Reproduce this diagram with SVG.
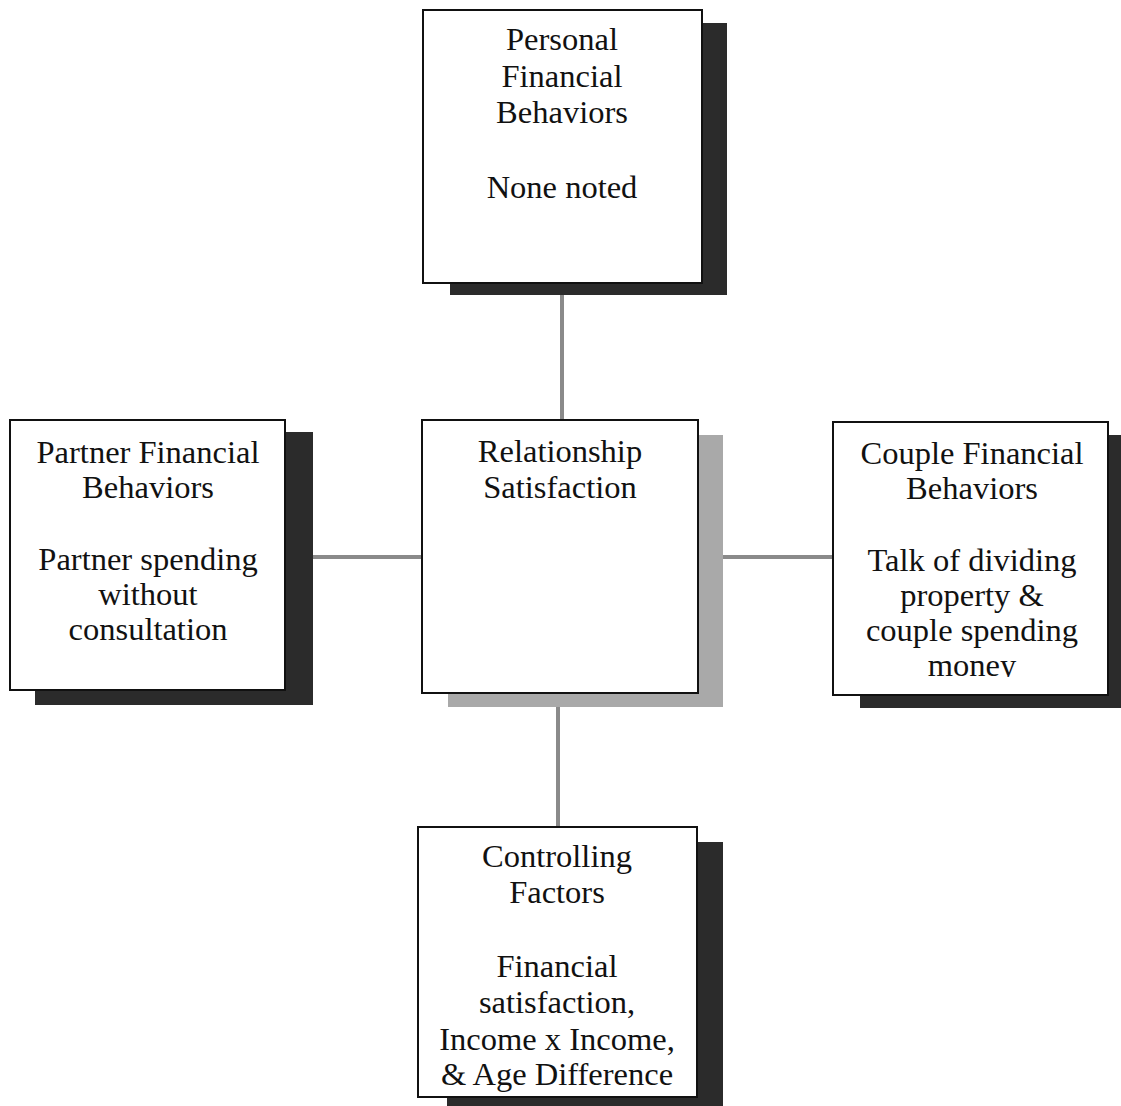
<svg xmlns="http://www.w3.org/2000/svg" width="1121" height="1106" viewBox="0 0 1121 1106">
<style>
.bg{fill:#ffffff}
.box{fill:#ffffff;stroke:#111;stroke-width:2}
.sh{fill:#2b2b2b}
.shl{fill:#a9a9a9}
.conn{stroke:#8a8a8a;stroke-width:4;fill:none}
text{font-family:"Liberation Serif","Times New Roman",serif;font-size:32.5px;fill:#111;text-anchor:middle}
</style>
<defs>
<clipPath id="clipCouple"><rect x="833" y="422" width="275" height="255"/></clipPath>
</defs>
<rect class="bg" x="0" y="0" width="1121" height="1106"/>
<g id="connectors">
<line class="conn" x1="562" y1="295" x2="562" y2="420"/>
<line class="conn" x1="313" y1="557" x2="422" y2="557"/>
<line class="conn" x1="723" y1="557" x2="833" y2="557"/>
<line class="conn" x1="558" y1="707" x2="558" y2="827"/>
</g>
<g id="personal">
<rect class="sh" x="450" y="23" width="277" height="272"/>
<rect class="box" x="423" y="10" width="279" height="273"/>
<text x="562" y="50">Personal</text>
<text x="562" y="87">Financial</text>
<text x="562" y="123">Behaviors</text>
<text x="562" y="198">None noted</text>
</g>
<g id="partner">
<rect class="sh" x="35" y="432" width="278" height="273"/>
<rect class="box" x="10" y="420" width="275" height="270"/>
<text x="148" y="463">Partner Financial</text>
<text x="148" y="498">Behaviors</text>
<text x="148" y="570">Partner spending</text>
<text x="148" y="605">without</text>
<text x="148" y="640">consultation</text>
</g>
<g id="relationship">
<rect class="shl" x="448" y="435" width="275" height="272"/>
<rect class="box" x="422" y="420" width="276" height="273"/>
<text x="560" y="462">Relationship</text>
<text x="560" y="498">Satisfaction</text>
</g>
<g id="couple">
<rect class="sh" x="860" y="435" width="261" height="273"/>
<rect class="box" x="833" y="422" width="275" height="273"/>
<text x="972" y="464">Couple Financial</text>
<text x="972" y="499">Behaviors</text>
<g clip-path="url(#clipCouple)">
<text x="972" y="571">Talk of dividing</text>
<text x="972" y="606">property &amp;</text>
<text x="972" y="641">couple spending</text>
<text x="972" y="676">money</text>
</g>
</g>
<g id="controlling">
<rect class="sh" x="447" y="842" width="276" height="264"/>
<rect class="box" x="418" y="827" width="279" height="270"/>
<text x="557" y="867">Controlling</text>
<text x="557" y="903">Factors</text>
<text x="557" y="977">Financial</text>
<text x="557" y="1013">satisfaction,</text>
<text x="557" y="1050">Income x Income,</text>
<text x="557" y="1085">&amp; Age Difference</text>
</g>
</svg>
